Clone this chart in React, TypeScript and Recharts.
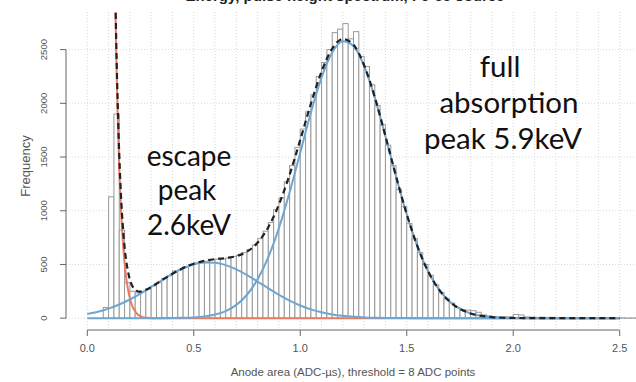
import React from 'react';
import { Bar, CartesianGrid, ComposedChart, Line, ReferenceLine, XAxis, YAxis } from 'recharts';

// histogram bins (centre of each 0.025 wide bin) and counts
const binCenters = [
  0.0875, 0.1125, 0.1375, 0.1625, 0.1875, 0.2125, 0.2375, 0.2625, 0.2875, 0.3125,
  0.3375, 0.3625, 0.3875, 0.4125, 0.4375, 0.4625, 0.4875, 0.5125, 0.5375, 0.5625,
  0.5875, 0.6125, 0.6375, 0.6625, 0.6875, 0.7125, 0.7375, 0.7625, 0.7875, 0.8125,
  0.8375, 0.8625, 0.8875, 0.9125, 0.9375, 0.9625, 0.9875, 1.0125, 1.0375, 1.0625,
  1.0875, 1.1125, 1.1375, 1.1625, 1.1875, 1.2125, 1.2375, 1.2625, 1.2875, 1.3125,
  1.3375, 1.3625, 1.3875, 1.4125, 1.4375, 1.4625, 1.4875, 1.5125, 1.5375, 1.5625,
  1.5875, 1.6125, 1.6375, 1.6625, 1.6875, 1.7125, 1.7375, 1.7625, 1.7875, 1.8125,
  1.8375, 1.8625, 1.8875, 1.9125, 1.9375, 1.9625, 1.9875, 2.0125, 2.0375, 2.0625,
  2.0875, 2.1125, 2.1375, 2.1625, 2.1875, 2.2125, 2.2375, 2.2625, 2.2875, 2.3125,
  2.3375, 2.3625, 2.3875, 2.4125, 2.4375, 2.4625, 2.4875, 2.5125, 2.5375, 2.5625,
  2.5875,
];
const binCounts = [
  100, 1130, 1900, 820, 330, 250, 235, 250, 270, 300,
  330, 370, 395, 440, 450, 480, 500, 515, 525, 530,
  545, 550, 550, 560, 575, 585, 610, 640, 680, 740,
  810, 890, 1010, 1120, 1270, 1420, 1590, 1760, 1920, 2080,
  2250, 2380, 2500, 2658, 2690, 2742, 2600, 2667, 2437, 2343,
  2173, 1980, 1800, 1610, 1420, 1200, 1040, 880, 740, 610,
  500, 400, 310, 240, 180, 140, 100, 80, 75, 70,
  55, 30, 20, 15, 10, 12, 10, 35, 30, 12,
  10, 8, 9, 7, 8, 6, 7, 6, 5, 6,
  5, 4, 5, 4, 4, 3, 3, 3, 2, 2,
  2,
];

// noise peak fit (red)
const noiseX = [0.128, 0.132, 0.136, 0.14, 0.145, 0.15, 0.16, 0.17, 0.18, 0.19, 0.2, 0.21, 0.22, 0.23, 0.24, 0.25, 0.26, 0.28, 0.3, 0.6, 1.0, 1.5, 2.0, 2.5];
const noiseY = [3300, 2900, 2450, 2100, 1720, 1400, 940, 630, 420, 280, 185, 120, 78, 50, 30, 18, 10, 3, 0, 0, 0, 0, 0, 0];

// gaussian fits (blue) sampled every 0.05
const fitX = [
  0, 0.05, 0.1, 0.15, 0.2, 0.25, 0.3, 0.35, 0.4, 0.45, 0.5, 0.55, 0.6, 0.65, 0.7, 0.75, 0.8,
  0.85, 0.9, 0.95, 1.0, 1.05, 1.1, 1.15, 1.2, 1.25, 1.3, 1.35, 1.4, 1.45, 1.5, 1.55, 1.6,
  1.65, 1.7, 1.75, 1.8, 1.85, 1.9, 1.95, 2.0, 2.05, 2.1, 2.15, 2.2, 2.25, 2.3, 2.35, 2.4,
  2.45, 2.5,
];
const escapeY = [
  39, 60, 89, 127, 174, 229, 290, 353, 413, 463, 500, 518, 516, 494, 454, 401, 341,
  278, 218, 164, 118, 82, 55, 35, 22, 13, 7, 4, 2, 1, 1, 0, 0,
  0, 0, 0, 0, 0, 0, 0, 0, 0, 0, 0, 0, 0, 0, 0, 0,
  0, 0,
];
const fullY = [
  0, 0, 0, 0, 0, 0, 0, 0, 1, 3, 7, 16, 34, 66, 124, 218, 363,
  569, 841, 1172, 1542, 1914, 2240, 2474, 2577, 2532, 2347, 2053, 1693, 1318, 967, 670, 437,
  270, 157, 86, 44, 22, 10, 4, 2, 1, 1, 0, 0, 0, 0, 0, 0,
  0, 0,
];

// total fit (black dashed)
const totalX = [
  0.128, 0.132, 0.136, 0.14, 0.145, 0.15, 0.16, 0.17, 0.18, 0.19, 0.2, 0.21, 0.22, 0.23, 0.24,
  0.25, 0.26, 0.28, 0.3, 0.35, 0.4, 0.45, 0.5, 0.55, 0.6, 0.65, 0.7, 0.75, 0.8, 0.85, 0.9,
  0.95, 1.0, 1.05, 1.1, 1.15, 1.2, 1.25, 1.3, 1.35, 1.4, 1.45, 1.5, 1.55, 1.6, 1.65, 1.7,
  1.75, 1.8, 1.85, 1.9, 1.95, 2.0, 2.1, 2.2, 2.3, 2.4, 2.5,
];
const totalY = [
  3400, 3005, 2560, 2213, 1840, 1527, 1076, 776, 575, 445, 359, 305, 274, 257, 248,
  247, 251, 268, 290, 353, 414, 466, 507, 534, 550, 560, 578, 619, 704, 847, 1059,
  1336, 1660, 1996, 2295, 2509, 2599, 2545, 2354, 2057, 1695, 1319, 968, 670, 437, 270, 157,
  86, 44, 22, 10, 4, 2, 1, 1, 0, 0, 0,
];

const xTicks = [0, 0.5, 1.0, 1.5, 2.0, 2.5];
const yTicks = [0, 500, 1000, 1500, 2000, 2500];
const gridX = [
  0, 0.1, 0.2, 0.3, 0.4, 0.5, 0.6, 0.7, 0.8, 0.9, 1.0, 1.1, 1.2, 1.3,
  1.4, 1.5, 1.6, 1.7, 1.8, 1.9, 2.0, 2.1, 2.2, 2.3, 2.4, 2.5,
];
const gridY = [0, 500, 1000, 1500, 2000, 2500];

const histRows = binCenters.map((x, i) => ({ x, count: binCounts[i] }));
const noiseRows = noiseX.map((x, i) => ({ x, y: noiseY[i] }));
const escapeRows = fitX.map((x, i) => ({ x, y: escapeY[i] }));
const fullRows = fitX.map((x, i) => ({ x, y: fullY[i] }));
const totalRows = totalX.map((x, i) => ({ x, y: totalY[i] }));

const CHART_W = 660;
const LEFT = 66;
const RIGHT = 19;
const X_DOMAIN: [number, number] = [-0.1, 2.6];
const BIN_W = 0.025;
// pixel width of one bin on the x axis
const binPx = ((CHART_W - LEFT - RIGHT) * BIN_W) / (X_DOMAIN[1] - X_DOMAIN[0]);

const axisFont = '"Liberation Sans", Arial, sans-serif';
const noteFont = 'Lato, "Open Sans", sans-serif';

const HistBar = (props: any) => {
  const { x, y, width, height } = props;
  if (!height || height <= 0) return null;
  const cx = x + width / 2;
  return <rect x={cx - binPx / 2} y={y} width={binPx} height={height} fill="#fff" stroke="#999" strokeWidth={1} />;
};

const XTick = (props: any) => {
  const { x, payload } = props;
  return (
    <text x={x} y={352} textAnchor="middle" fontSize={11} fill="#555" fontFamily={axisFont}>
      {payload.value.toFixed(1)}
    </text>
  );
};

const YTick = (props: any) => {
  const { y, payload } = props;
  return (
    <text
      x={47}
      y={y}
      transform={`rotate(-90, 47, ${y})`}
      textAnchor="middle"
      fontSize={9.5}
      fill="#555"
      fontFamily={axisFont}
    >
      {payload.value}
    </text>
  );
};

export default function App() {
  return (
    <div style={{ position: 'absolute', left: 0, top: 0, width: 636, height: 382, overflow: 'hidden', background: '#fff' }}>
      <ComposedChart width={CHART_W} height={382} data={histRows} margin={{ top: 12, right: RIGHT, left: 0, bottom: 0 }}>
        <CartesianGrid
          verticalValues={gridX}
          horizontalValues={gridY}
          stroke="#d9d9d9"
          strokeDasharray="1 2"
        />
        <XAxis
          type="number"
          dataKey="x"
          domain={X_DOMAIN}
          ticks={xTicks}
          allowDataOverflow
          height={52}
          axisLine={false}
          tickLine={{ stroke: '#666' }}
          tickSize={6}
          tick={<XTick />}
          interval={0}
        />
        <YAxis
          type="number"
          domain={[-110, 2850]}
          ticks={yTicks}
          allowDataOverflow
          width={LEFT}
          axisLine={false}
          tickLine={{ stroke: '#666' }}
          tickSize={6}
          tick={<YTick />}
          interval={0}
        />
        <ReferenceLine segment={[{ x: 0, y: -110 }, { x: 2.5, y: -110 }]} stroke="#666" />
        <ReferenceLine segment={[{ x: -0.1, y: 0 }, { x: -0.1, y: 2500 }]} stroke="#666" />
        <Bar dataKey="count" shape={<HistBar />} isAnimationActive={false} />
        <Line data={noiseRows} dataKey="y" type="monotone" stroke="#ec7a62" strokeWidth={2} dot={false} isAnimationActive={false} />
        <Line data={escapeRows} dataKey="y" type="monotone" stroke="#6ea6d2" strokeWidth={2} dot={false} isAnimationActive={false} />
        <Line data={fullRows} dataKey="y" type="monotone" stroke="#6ea6d2" strokeWidth={2} dot={false} isAnimationActive={false} />
        <Line data={totalRows} dataKey="y" type="monotone" stroke="#222" strokeWidth={2.2} strokeDasharray="6 4" dot={false} isAnimationActive={false} />
      </ComposedChart>
      <svg width={636} height={382} style={{ position: 'absolute', left: 0, top: 0, pointerEvents: 'none' }}>
        <text x={345} y={1} textAnchor="middle" fontSize={15} fontWeight="bold" fill="#222" fontFamily={axisFont}>
          Energy, pulse height spectrum, Fe-55 source
        </text>
        <text x={30} y={166} transform="rotate(-90, 30, 166)" textAnchor="middle" fontSize={13} fill="#555" fontFamily={axisFont}>
          Frequency
        </text>
        <text x={353} y={376} textAnchor="middle" fontSize={11.5} fill="#555" fontFamily={axisFont}>
          Anode area (ADC-µs), threshold = 8 ADC points
        </text>
        <g fontFamily={noteFont} fontSize={28} fill="#111" textAnchor="middle">
          <text x={189} y={166}>escape</text>
          <text x={187} y={200}>peak</text>
          <text x={189} y={235}>2.6keV</text>
        </g>
        <g fontFamily={noteFont} fontSize={29.5} fill="#111" textAnchor="middle">
          <text x={500} y={77}>full</text>
          <text x={509} y={113}>absorption</text>
          <text x={503} y={149}>peak 5.9keV</text>
        </g>
      </svg>
    </div>
  );
}
